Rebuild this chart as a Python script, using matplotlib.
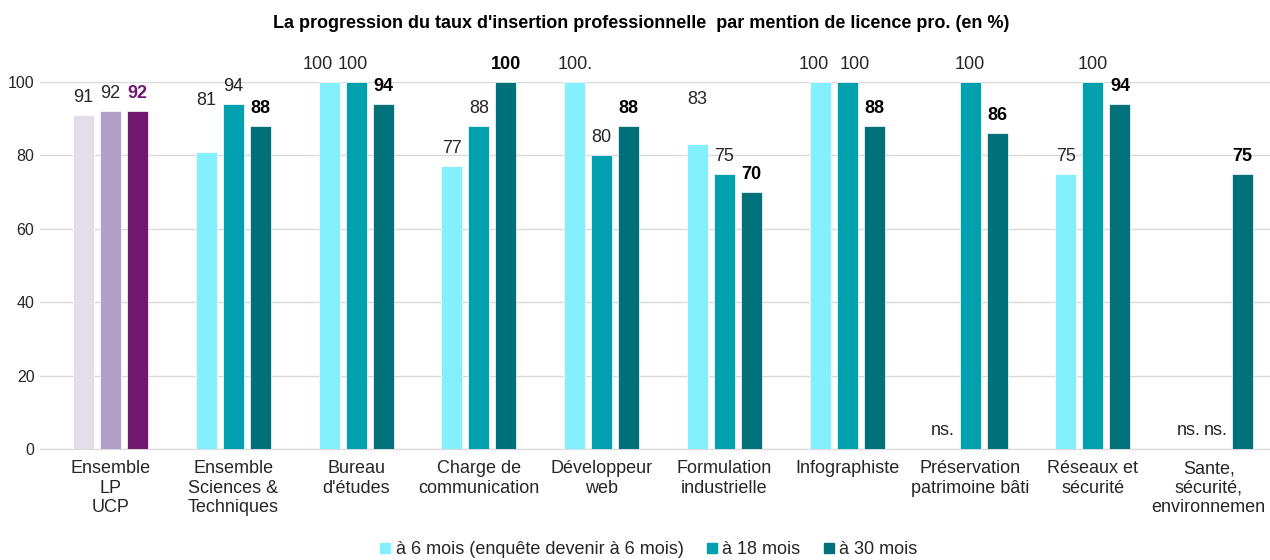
import numpy as np
import matplotlib
matplotlib.use("Agg")
import matplotlib.pyplot as plt
from matplotlib.patches import Patch
from matplotlib.transforms import ScaledTranslation

plt.rcParams['font.family'] = ['Liberation Sans', 'DejaVu Sans']

categories = ["Ensemble\nLP\nUCP", "Ensemble\nSciences &\nTechniques", "Bureau\nd'études",
              "Charge de\ncommunication", "Développeur\nweb", "Formulation\nindustrielle",
              "Infographiste", "Préservation\npatrimoine bâti", "Réseaux et\nsécurité",
              "Sante,\nsécurité,\nenvironnemen"]
m6 = [91, 81, 100, 77, 100, 83, 100, np.nan, 75, np.nan]
m18 = [92, 94, 100, 88, 80, 75, 100, 100, 100, np.nan]
m30 = [92, 88, 94, 100, 88, 70, 88, 86, 94, 75]
m6_labels = ["91", "81", "100", "77", "100.", "83", "100", "ns.", "75", "ns."]
m18_labels = ["92", "94", "100", "88", "80", "75", "100", "100", "100", "ns."]
m30_labels = [str(v) for v in m30]
series_names = ["à 6 mois (enquête devenir à 6 mois)", "à 18 mois", "à 30 mois"]
yticks = [0, 20, 40, 60, 80, 100]

c6, c18, c30 = "#85F0FD", "#00A0AE", "#00717A"
p6, p18, p30 = "#E4DEEA", "#B1A0C8", "#721870"

fig = plt.figure(figsize=(12.7, 5.6), dpi=100)
ax = fig.add_axes([0.0315, 0.198, 0.9685, 0.6556])
x = np.arange(len(categories))
off = 0.22
w = 0.172
series = [(m6, m6_labels, -off, c6, p6, 'normal'),
          (m18, m18_labels, 0, c18, p18, 'normal'),
          (m30, m30_labels, off, c30, p30, 'bold')]
# manual label nudges as placed in the reference (data units)
lift = {(0, 1): 9.1, (0, 5): 7.4}
shift = {(0, 2): -0.09, (1, 2): -0.03, (0, 6): -0.05, (1, 6): 0.06}
for si, (vals, labs, o, col, pcol, wt) in enumerate(series):
    colors = [pcol if i == 0 else col for i in range(len(vals))]
    v = np.array(vals, dtype=float)
    ax.bar(x + o, np.nan_to_num(v), width=w, color=colors, edgecolor='white', linewidth=0.5, zorder=3)
    for i, (val, lab) in enumerate(zip(v, labs)):
        if np.isnan(val):
            ax.text(x[i] + o, 5.2, lab, ha='center', va='center', fontsize=13, color='#262626')
            continue
        y = val + 4.8 + lift.get((si, i), 0)
        tcol = '#000000' if wt == 'bold' else '#262626'
        if i == 0 and si == 2:
            tcol = p30
        ax.text(x[i] + o + shift.get((si, i), 0), y, lab, ha='center', va='center',
                fontsize=13, color=tcol, fontweight=wt)

ax.set_xlim(-0.574, 9.442)
ax.set_ylim(0, 100)
ax.set_yticks(yticks)
ax.set_yticklabels([str(t) for t in yticks], fontsize=11.5, color='#262626')
ax.yaxis.grid(True, color='#D9D9D9', linewidth=1, zorder=0)
ax.set_axisbelow(True)
ax.set_xticks(x)
ax.set_xticklabels(categories, fontsize=13, color='#262626')
ax.tick_params(axis='both', length=0)
ax.tick_params(axis='x', pad=8)
ax.tick_params(axis='y', pad=4)
for s in ['top', 'right', 'left']:
    ax.spines[s].set_visible(False)
ax.spines['bottom'].set_color('#D9D9D9')
last = ax.get_xticklabels()[-1]
last.set_transform(last.get_transform() + ScaledTranslation(-0.07, 0, fig.dpi_scale_trans))

fig.text(0.505, 0.958, "La progression du taux d'insertion professionnelle  par mention de licence pro. (en %)",
         ha='center', va='center', fontsize=13, fontweight='bold', color='#000000')

handles = [Patch(color=c) for c in (c6, c18, c30)]
fig.legend(handles, series_names, loc='center', bbox_to_anchor=(0.511, 0.018), ncol=3, frameon=False,
           fontsize=13, handlelength=0.55, handleheight=0.55, handletextpad=0.3, columnspacing=1.3,
           labelcolor='#262626')

fig.savefig("out.png", dpi=100)
